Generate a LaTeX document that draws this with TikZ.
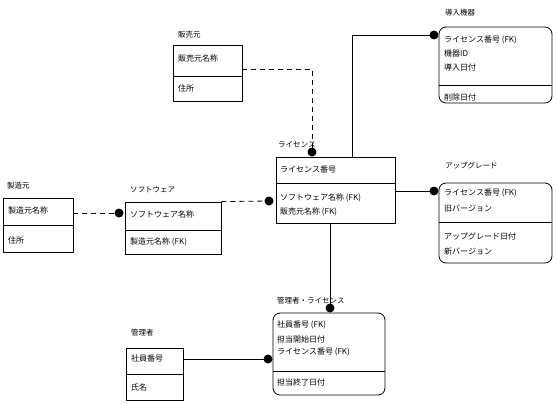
\documentclass[tikz,border=0pt]{standalone}
\usepackage{fontspec}
\setmainfont{Noto Sans CJK JP}
\usetikzlibrary{positioning,calc}

\tikzset{
  entity/.style={rectangle, draw, thick, inner sep=0pt},
  depent/.style={rectangle, draw, thick, rounded corners=7pt, inner sep=0pt},
  attr/.style={anchor=west, inner sep=0pt, font=\fontsize{8}{9}\selectfont},
  ename/.style={anchor=west, inner sep=0pt, font=\fontsize{7.5}{8}\selectfont},
  idrel/.style={thick},
  nidrel/.style={thick, dashed, dash pattern=on 5pt off 4pt},
}

\begin{document}
\begin{tikzpicture}[x=1pt, y=-1pt]
    \useasboundingbox (0,0) rectangle (557,404);

    % Seller entity
    \node[entity, minimum width=69pt, minimum height=56pt] (hanbai) at (207.5,73) {};
    \draw[thick] (hanbai.west |- 0,76) -- (hanbai.east |- 0,76);
    \node[ename] (hanbaiName) at (178,35) {販売元};
    \node[attr] (hanbaiA1) at (178,58) {販売元名称};
    \node[attr] (hanbaiA2) at (178,88) {住所};

    % Maker entity
    \node[entity, minimum width=70pt, minimum height=54pt] (seizou) at (38,225) {};
    \draw[thick] (seizou.west |- 0,225) -- (seizou.east |- 0,225);
    \node[ename] (seizouName) at (7,186) {製造元};
    \node[attr] (seizouA1) at (8,210) {製造元名称};
    \node[attr] (seizouA2) at (8,240) {住所};

    % Software entity
    \node[entity, minimum width=96pt, minimum height=52pt] (soft) at (173,228) {};
    \draw[thick] (soft.west |- 0,230) -- (soft.east |- 0,230);
    \node[ename] (softName) at (130,190) {ソフトウェア};
    \node[attr] (softA1) at (130,214) {ソフトウェア名称};
    \node[attr] (softA2) at (130,242) {製造元名称 (FK)};

    % License entity
    \node[entity, minimum width=119pt, minimum height=66pt] (lic) at (335.5,190) {};
    \draw[thick] (lic.west |- 0,183) -- (lic.east |- 0,183);
    \node[ename] (licName) at (278,145) {ライセンス};
    \node[attr] (licA1) at (280,170) {ライセンス番号};
    \node[attr] (licA2) at (280,198) {ソフトウェア名称 (FK)};
    \node[attr] (licA3) at (280,212) {販売元名称 (FK)};

    % Installed device entity
    \node[depent, minimum width=113pt, minimum height=76pt] (dounyu) at (495.5,65) {};
    \draw[thick] (dounyu.west |- 0,85) -- (dounyu.east |- 0,85);
    \node[ename] (dounyuName) at (445,13) {導入機器};
    \foreach \n/\y/\txt in {1/40/ライセンス番号 (FK), 2/53/機器ID, 3/67/導入日付, 4/97/削除日付} {
        \node[attr] (dounyuA\n) at (444,\y) {\txt};
    }

    % Upgrade entity
    \node[depent, minimum width=113pt, minimum height=80pt] (upg) at (495.5,223) {};
    \draw[thick] (upg.west |- 0,222) -- (upg.east |- 0,222);
    \node[ename] (upgName) at (445,166) {アップグレード};
    \foreach \n/\y/\txt in {1/193/ライセンス番号 (FK), 2/209/旧バージョン, 3/236/アップグレード日付, 4/251/新バージョン} {
        \node[attr] (upgA\n) at (444,\y) {\txt};
    }

    % Manager-license entity
    \node[depent, minimum width=112pt, minimum height=82pt] (kanrilic) at (329,354) {};
    \draw[thick] (kanrilic.west |- 0,371) -- (kanrilic.east |- 0,371);
    \node[ename] (kanrilicName) at (277,301) {管理者・ライセンス};
    \foreach \n/\y/\txt in {1/325/社員番号 (FK), 2/339/担当開始日付, 3/352/ライセンス番号 (FK), 4/382/担当終了日付} {
        \node[attr] (kanrilicA\n) at (277,\y) {\txt};
    }

    % Manager entity
    \node[entity, minimum width=57pt, minimum height=52pt] (kanri) at (154.5,374) {};
    \draw[thick] (kanri.west |- 0,374) -- (kanri.east |- 0,374);
    \node[ename] (kanriName) at (131,333) {管理者};
    \node[attr] (kanriA1) at (131,358) {社員番号};
    \node[attr] (kanriA2) at (131,387) {氏名};

    % Relationship end points
    \coordinate (dLicTop) at (312,152);
    \coordinate (dSoft) at (119,213);
    \coordinate (dLicLeft) at (269,201);
    \coordinate (dDounyu) at (434,35);
    \coordinate (dUpg) at (434,191);
    \coordinate (dKanriTop) at (330,308);
    \coordinate (dKanriLeft) at (268,359);

    % Non-identifying relationships
    \draw[nidrel] (hanbai.east |- 0,69) -| (dLicTop);
    \draw[nidrel] (seizou.east |- dSoft) -- (dSoft);
    \draw[nidrel] (soft.north east) -- (dLicLeft);

    % Identifying relationships
    \draw[idrel] (lic.north -| 352,0) |- (dDounyu);
    \draw[idrel] (lic.east |- dUpg) -- (dUpg);
    \draw[idrel] (lic.south -| dKanriTop) -- (dKanriTop);
    \draw[idrel] (kanri.east |- dKanriLeft) -- (dKanriLeft);

    % Many-side dots
    \foreach \d in {dLicTop, dSoft, dLicLeft, dDounyu, dUpg, dKanriTop, dKanriLeft} {
        \fill (\d) circle (4.5pt);
    }
\end{tikzpicture}
\end{document}
